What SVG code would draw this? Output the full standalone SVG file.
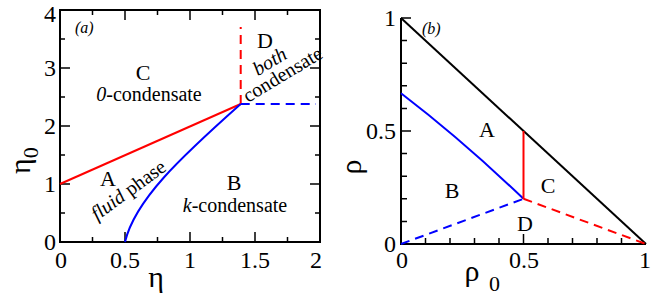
<svg xmlns="http://www.w3.org/2000/svg" width="654" height="295" viewBox="0 0 654 295">
<style>
.tk{font-size:24px}
.lb{font-size:22px;text-anchor:middle}
.sm{font-size:20px}
.it{font-style:italic}
.ax{fill:none;stroke:#000;stroke-width:2}
.tick{stroke:#000;stroke-width:1.5}
.red{fill:none;stroke:#f00;stroke-width:2}
.blue{fill:none;stroke:#00f;stroke-width:2}
.dash{stroke-dasharray:9,6}
</style>
<rect width="654" height="295" fill="#fff"/>
<g font-family="Liberation Serif, Times New Roman, serif" fill="#000">
<g id="panel-a-axes">
<rect class="ax" x="60" y="10" width="260" height="232"/>
<path class="tick" d="M92.5,242v-5M125,242v-10M157.5,242v-5M190,242v-10M222.5,242v-5M255,242v-10M287.5,242v-5
M92.5,10v5M125,10v10M157.5,10v5M190,10v10M222.5,10v5M255,10v10M287.5,10v5
M60,213h5M60,184h10M60,155h5M60,126h10M60,97h5M60,68h10M60,39h5
M320,213h-5M320,184h-10M320,155h-5M320,126h-10M320,97h-5M320,68h-10M320,39h-5"/>
<g class="tk" text-anchor="end">
<text x="56" y="21.5">4</text><text x="56" y="76">3</text><text x="56" y="134">2</text><text x="56" y="192">1</text><text x="56" y="250">0</text>
</g>
<g class="tk" text-anchor="middle">
<text x="61" y="268">0</text><text x="125" y="268">0.5</text><text x="190" y="268">1</text><text x="255" y="268">1.5</text><text x="316" y="268">2</text>
</g>
<text x="156" y="287" font-size="30" text-anchor="middle">η</text>
<text transform="translate(30,174) rotate(-90)" font-size="30">η<tspan font-size="22" dy="8">0</tspan></text>
</g>
<g id="connectors-a">
<path class="red" d="M60,184L240.7,104"/>
<path class="blue" d="M125,242C135,200 180,158 240.7,104"/>
<path class="red dash" d="M240.7,104V27"/>
<path class="blue dash" d="M240.7,104H316"/>
</g>
<g id="region-a-A"><text class="lb" x="108" y="186">A</text>
<text class="sm" transform="translate(97,221) rotate(-36)"><tspan class="it">fluid</tspan> phase</text></g>
<g id="region-a-B"><text class="lb" x="234" y="190">B</text>
<text class="sm" x="235" y="212" text-anchor="middle"><tspan class="it">k</tspan>-condensate</text></g>
<g id="region-a-C"><text class="lb" x="143" y="80">C</text>
<text class="sm" x="149" y="101" text-anchor="middle"><tspan class="it">0</tspan>-condensate</text></g>
<g id="region-a-D"><text class="lb" x="265" y="48">D</text>
<text class="sm it" transform="translate(273,67) rotate(-31)" text-anchor="middle">both</text>
<text class="sm" transform="translate(286,80) rotate(-31)" text-anchor="middle">condensate</text></g>
<text class="it" x="75" y="33" font-size="16">(a)</text>

<g id="panel-b-axes">
<path class="ax" d="M401,18V244H646"/>
<path class="tick" d="M401,221.4h6M401,198.8h6M401,176.2h6M401,153.6h6M401,131h10M401,108.4h6M401,85.8h6M401,63.2h6M401,40.6h6M401,18h10
M425.5,244v-6M450,244v-6M474.5,244v-6M499,244v-6M523.5,244v-10M548,244v-6M572.5,244v-6M597,244v-6M621.5,244v-6"/>
<g class="tk" text-anchor="end">
<text x="396" y="26">1</text><text x="396" y="139">0.5</text><text x="396" y="252">0</text>
</g>
<g class="tk" text-anchor="middle">
<text x="402" y="268">0</text><text x="524" y="268">0.5</text><text x="645" y="268">1</text>
</g>
<text transform="translate(361,167) rotate(-90)" font-size="30" text-anchor="middle">ρ</text>
<text x="472" y="281" font-size="30" text-anchor="middle">ρ</text><text x="489" y="291" font-size="22">0</text>
</g>
<g id="connectors-b">
<path class="ax" d="M401,18L646,244"/>
<path class="blue" d="M401,93.3Q462,140 523.5,198.8"/>
<path class="red" d="M523.5,198.8V131"/>
<path class="blue dash" d="M401,244L523.5,198.8"/>
<path class="red dash" d="M523.5,198.8L646,244"/>
</g>
<g id="region-b-A"><text class="lb" x="487" y="137">A</text></g>
<g id="region-b-B"><text class="lb" x="452" y="198">B</text></g>
<g id="region-b-C"><text class="lb" x="548" y="193">C</text></g>
<g id="region-b-D"><text class="lb" x="525" y="231">D</text></g>
<text class="it" x="422" y="34" font-size="16">(b)</text>
</g>
</svg>
